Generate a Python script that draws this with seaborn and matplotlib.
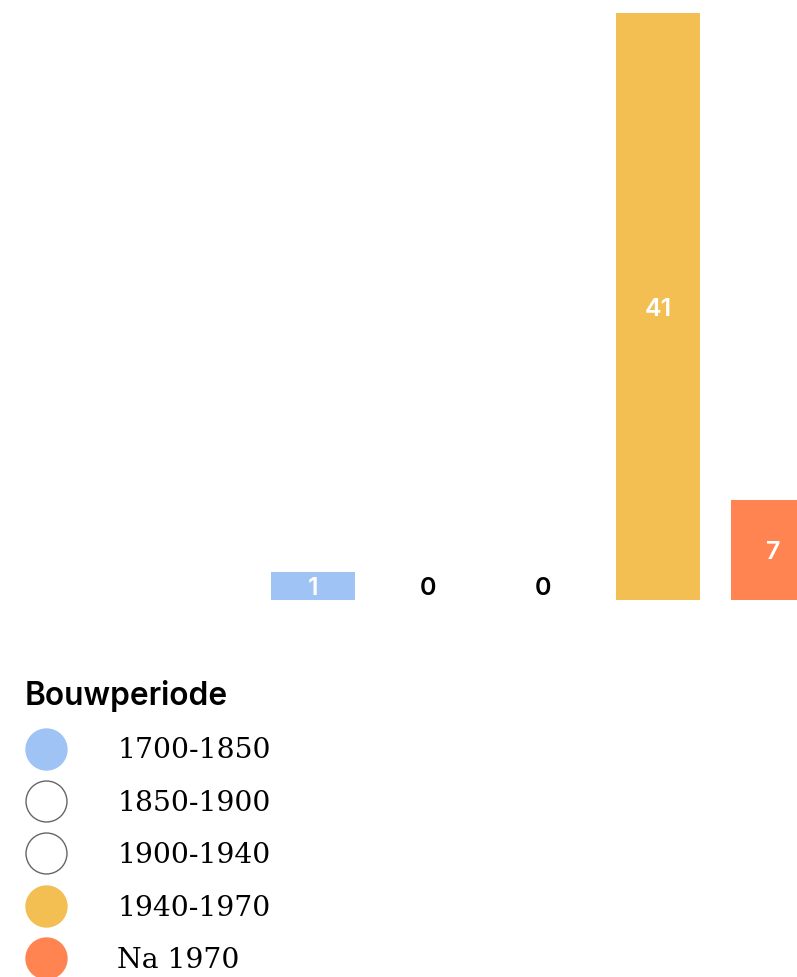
import numpy as np
import matplotlib
matplotlib.use("Agg")
import matplotlib.pyplot as plt
import seaborn as sns
from matplotlib.lines import Line2D

# Data
periodes = ['1700-1850', '1850-1900', '1900-1940', '1940-1970', 'Na 1970']
aantallen = [1, 0, 0, 41, 7]
kleuren = ['#9fc3f5', '#ffffff', '#ffffff', '#f3be52', '#ff8451']
label_kleuren = ['white', 'black', 'black', 'white', 'white']

sns.set_theme(style='white')
plt.rcParams['font.family'] = ['Inter', 'DejaVu Sans']
plt.rcParams['text.color'] = 'black'

W, H = 797, 977
fig = plt.figure(figsize=(W / 100, H / 100), dpi=100)
ax = fig.add_axes([0, 1 - 600 / H, 1, (600 - 13) / H])

# kleine balken krijgen een minimale hoogte zodat het label past
min_hoogte = 1.95
hoogtes = np.maximum(np.array(aantallen, dtype=float), min_hoogte)

sns.barplot(x=periodes, y=hoogtes, hue=periodes, palette=kleuren, legend=False,
            width=0.73, saturation=1, linewidth=0, ax=ax)

ax.set_xlim(-2.72, 4.205)
ax.set_ylim(0, 41)
ax.axis('off')

for p, n, kl in zip(ax.patches, aantallen, label_kleuren):
    ax.text(p.get_x() + p.get_width() / 2, p.get_height() / 2, str(n),
            ha='center', va='center_baseline', color=kl, fontsize=18, fontweight='semibold')

# Legenda
handles = []
for kl in kleuren:
    rand = '#666666' if kl == '#ffffff' else kl
    handles.append(Line2D([], [], linestyle='none', marker='o', markersize=29.5,
                          markerfacecolor=kl, markeredgecolor=rand, markeredgewidth=1))

leg = fig.legend(handles, periodes, loc='upper left',
                 bbox_to_anchor=(25 / W, 1 - 680 / H), frameon=False,
                 borderaxespad=0, borderpad=0, handlelength=1.47, handletextpad=1.8,
                 labelspacing=0.9, title='Bouwperiode', alignment='left',
                 labelcolor='black',
                 prop={'family': 'DejaVu Serif', 'size': 20.3},
                 title_fontproperties={'family': 'Inter', 'size': 22.8, 'weight': 'semibold'})
leg.get_title().set_color('black')

fig.savefig('out.png', dpi=100, facecolor='white')
